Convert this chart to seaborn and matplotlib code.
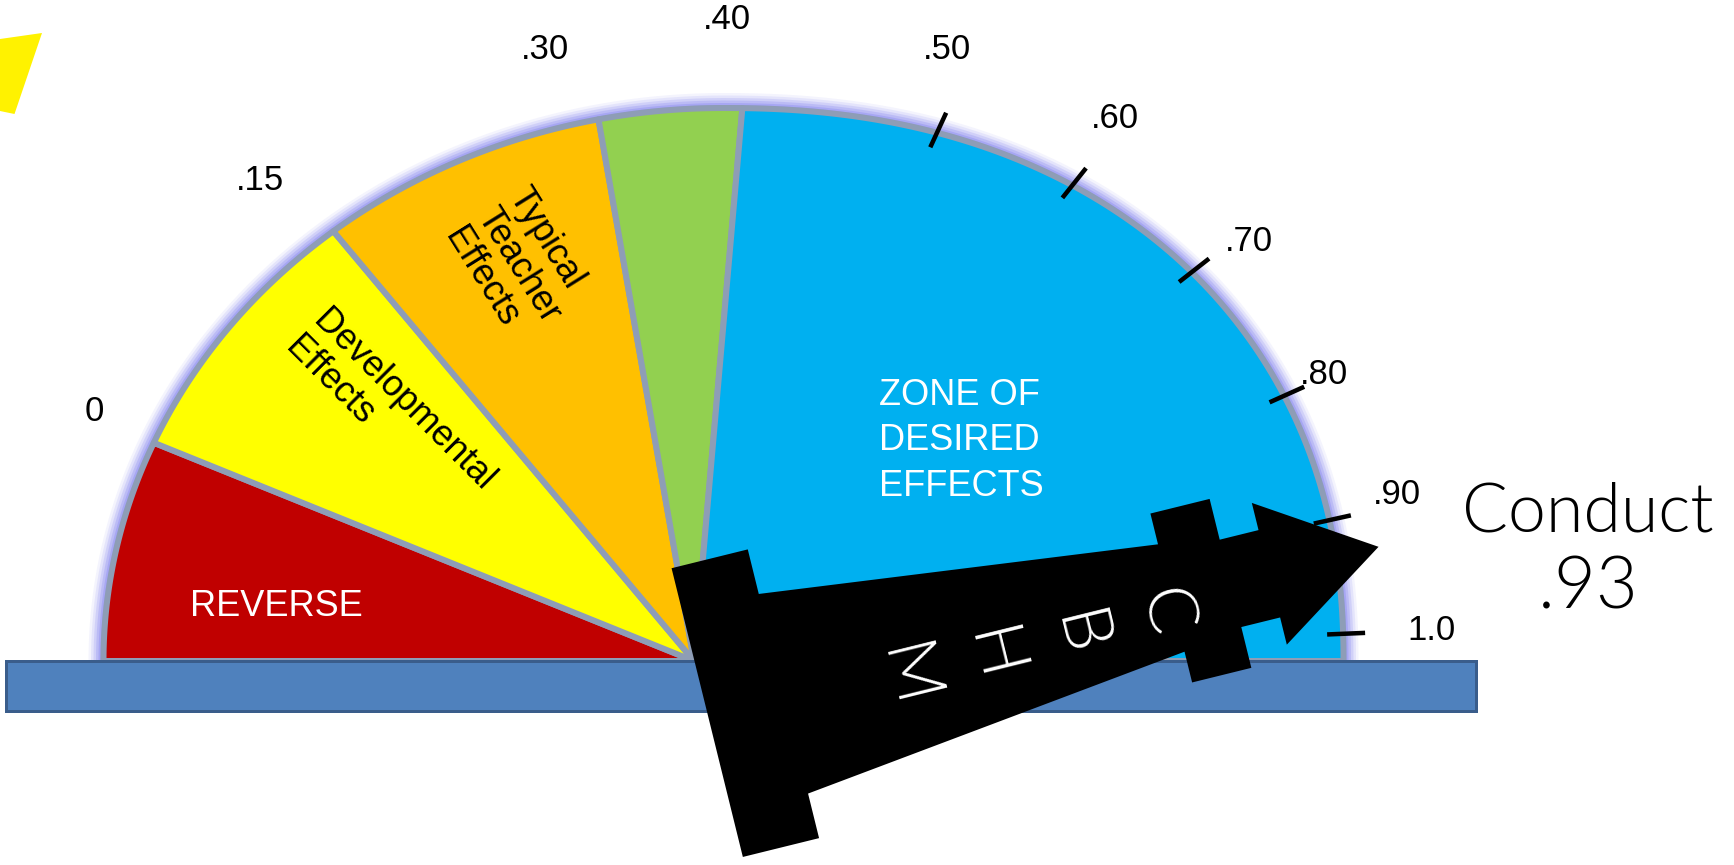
import numpy as np
import matplotlib
matplotlib.use("Agg")
import matplotlib.pyplot as plt
from matplotlib.patches import Polygon, Rectangle
import seaborn as sns

# ---- gauge data -------------------------------------------------------
zone_names = ["REVERSE", "Developmental\nEffects", "Typical\nTeacher\nEffects", "",
              "ZONE OF\nDESIRED\nEFFECTS"]
zone_lower = [-0.12, 0.00, 0.15, 0.30, 0.40]
zone_upper = [0.00, 0.15, 0.30, 0.40, 1.02]
zone_colors = ["#C00000", "#FFFF00", "#FFC000", "#92D050", "#00B0F0"]

tick_values = [0.0, 0.15, 0.30, 0.40, 0.50, 0.60, 0.70, 0.80, 0.90, 1.0]
tick_labels = ["0", ".15", ".30", ".40", ".50", ".60", ".70", ".80", ".90", "1.0"]
marked_ticks = [0.50, 0.60, 0.70, 0.80, 0.90, 1.0]

needle_name = "Conduct"
needle_value = 0.93
needle_letters = ["C", "B", "H", "M"]

# dial scale: effect size -> angle on the dial (degrees)
scale_values = [-0.12, 0.0, 0.15, 0.30, 0.40, 0.50, 0.60, 0.70, 0.80, 0.90, 1.0, 1.02]
scale_angles = [180, 158, 130, 100, 85, 65.3, 51.5, 38, 24.2, 12.5, 2.4, 0]

# tick label placement around the rim (angle nudge, distance from hub)
label_nudge = [-0.6, 2.1, 3.7, 2.1, 2.2, 0.7, -0.9, 0.3, 0.8, 0.0]
label_dist = [650, 648, 629, 642, 662, 686, 696, 692, 722, 738]


def to_angle(v):
    return float(np.interp(v, scale_values, scale_angles))


# ---- figure in pixel units --------------------------------------------
sns.set_theme(style="white")
plt.rcParams["font.family"] = ["Liberation Sans", "DejaVu Sans"]
W, H = 1734, 865
PX = 72 / 100  # points per pixel
fig = plt.figure(figsize=(W / 100, H / 100), dpi=100)
ax = fig.add_axes([0, 0, 1, 1])
ax.set_xlim(0, W)
ax.set_ylim(0, H)
ax.axis("off")

pivot = np.array([694.0, 204.0])       # where the wedges meet
ell_c = np.array([723.5, 204.0])       # centre of the dial outline
ell_a, ell_b = 620.0, 553.0


def edge_radius(phi):
    """Distance from the hub to the rim along direction phi (bisection)."""
    t = np.radians(phi)
    d = np.array([np.cos(t), np.sin(t)])
    lo, hi = 0.0, 900.0
    for _ in range(50):
        mid = 0.5 * (lo + hi)
        p = pivot + mid * d - ell_c
        e = 2.2 if p[0] > 0 else 2.0
        f = abs(p[0] / ell_a) ** e + abs(p[1] / ell_b) ** e
        if f < 1:
            lo = mid
        else:
            hi = mid
    return lo


def polar(phi, r):
    t = np.radians(phi)
    return pivot + r * np.array([np.cos(t), np.sin(t)])


# soft lavender glow around the dial
arc_phis = np.linspace(0, 180, 400)
arc = np.array([polar(p, edge_radius(p)) for p in arc_phis])
for lw, al in [(30, 0.10), (25, 0.16), (20, 0.24), (15, 0.34), (10, 0.5), (6, 0.7)]:
    ax.plot(arc[:, 0], arc[:, 1], color="#9494F2", lw=lw * PX, alpha=al,
            solid_capstyle="butt", zorder=1)

# coloured zones
for lo, hi, col in zip(zone_lower, zone_upper, zone_colors):
    a0, a1 = to_angle(hi), to_angle(lo)
    phis = np.linspace(a0, a1, 120)
    pts = [pivot] + [polar(p, edge_radius(p)) for p in phis]
    ax.add_patch(Polygon(pts, closed=True, facecolor=col, edgecolor="#8E9DB6",
                         lw=6 * PX, joinstyle="round", zorder=2))

# base bar
ax.add_patch(Rectangle((5.5, 154), 1470.5, 50, facecolor="#4F81BD",
                       edgecolor="#3A5D8B", lw=3 * PX, zorder=3))

# tick marks and labels
for v, lab, dphi, dist in zip(tick_values, tick_labels, label_nudge, label_dist):
    phi = to_angle(v)
    re = edge_radius(phi)
    if v in marked_ticks:
        p0, p1 = polar(phi, re - 16), polar(phi, re + 22)
        ax.plot([p0[0], p1[0]], [p0[1], p1[1]], color="black", lw=4.5 * PX,
                solid_capstyle="butt", zorder=4)
    lp = polar(phi + dphi, dist)
    ax.text(lp[0], lp[1], lab, fontsize=25, ha="center", va="center",
            color="black", zorder=5)

# zone captions
ax.text(276.5, 258, zone_names[0], fontsize=26, color="white",
        ha="center", va="center", zorder=5)
ax.text(390, 451, zone_names[1], fontsize=26, color="black", rotation=-45,
        rotation_mode="anchor", ha="center", va="center",
        multialignment="left", linespacing=1.15, zorder=5)
ax.text(518, 600, zone_names[2], fontsize=26, color="black", rotation=-58,
        rotation_mode="anchor", ha="center", va="center",
        multialignment="left", linespacing=1.1, zorder=5)
ax.text(961, 424, zone_names[4], fontsize=26, color="white",
        ha="center", va="center", multialignment="left",
        linespacing=1.38, zorder=5)

# yellow accent in the corner
ax.add_patch(Polygon([[0, 826], [42, 832], [14.5, 751], [0, 754]], closed=True,
                     facecolor="#FFF200", edgecolor="none", zorder=2))

# needle arrow pointing at the score
theta = to_angle(needle_value)
tip = polar(theta, 694)
direction = np.radians(theta + 4.4)
u = np.array([np.cos(direction), np.sin(direction)])
n = np.array([-u[1], u[0]])
L = 691.5
half = [(0, 148.7), (78.5, 148.7), (78.5, 102.8), (478, 55.3), (478, 87),
        (539, 87), (539, 45), (579, 45), (579, 73), (L, 0)]
outline = half + [(s, -w) for s, w in reversed(half[:-1])]
arrow_pts = [tip + (s - L) * u + w * n for s, w in outline]
ax.add_patch(Polygon(arrow_pts, closed=True, facecolor="black",
                     edgecolor="none", zorder=6))

for i, ch in enumerate(needle_letters):
    pos = tip + (467 - 88.7 * i - L) * u - 13 * n
    ax.text(pos[0], pos[1], ch, fontsize=50, color="white",
            family=["Lato", "DejaVu Sans"], fontweight=300,
            rotation=np.degrees(direction) - 90, rotation_mode="anchor",
            ha="center", va="center", zorder=7)

# score caption
ax.text(1588, 353, needle_name, fontsize=49, ha="center", va="center",
        family=["Lato", "DejaVu Sans"], fontweight=300, color="black", zorder=5)
ax.text(1588, 277, f".{round(needle_value * 100):02d}", fontsize=52,
        ha="center", va="center", family=["Lato", "DejaVu Sans"],
        fontweight=300, color="black", zorder=5)

fig.savefig("out.png", dpi=100, facecolor="white")
